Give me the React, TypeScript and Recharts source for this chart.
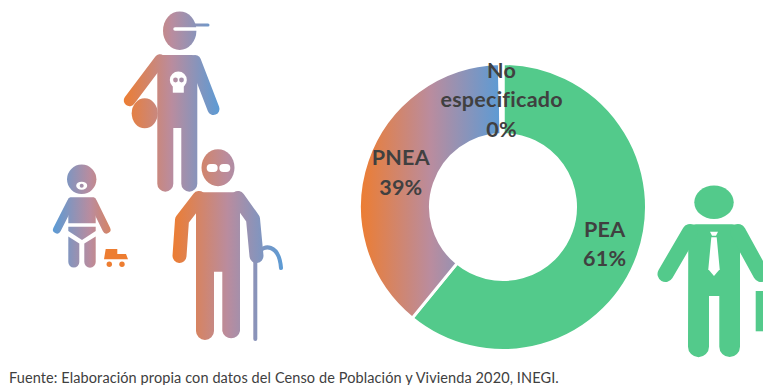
import { Cell, Pie, PieChart } from "recharts";

const sliceNames = ["PEA", "PNEA", "No especificado"];
const sliceValues = [60.9, 38.7, 0.4];
const sliceShown = [61, 39, 0];
const sliceFills = ["#53CA8B", "url(#pneaFill)", "#FFFFFF"];

const sourceNote = "Fuente: Elaboración propia con datos del Censo de Población y Vivienda 2020, INEGI.";

const rows = sliceNames.map((name, i) => ({ name, value: sliceValues[i], shown: sliceShown[i] }));

const ORANGE = "#ED7D31";
const MAUVE = "#BA8C9E";
const BLUE = "#5B9BD5";
const GREEN = "#53CA8B";
const INK = "#404040";
const FONT = "Lato, 'Open Sans', sans-serif";

function SliceLabel(props: any) {
  const { cx, cy, midAngle, innerRadius, outerRadius, payload } = props;
  const r = (innerRadius + outerRadius) / 2;
  const a = (midAngle * Math.PI) / 180;
  const x = cx + r * Math.cos(a);
  const y = cy - r * Math.sin(a);
  const lines = [...payload.name.split(" "), `${payload.shown}%`];
  const lineH = 29.5;
  const top = y - ((lines.length - 1) * lineH) / 2 + 8;
  return (
    <text textAnchor="middle" fill={INK} fontFamily={FONT} fontWeight={700} fontSize={21.5} letterSpacing={0.25}>
      {lines.map((line: string, i: number) => (
        <tspan key={line} x={x} y={top + i * lineH}>
          {line}
        </tspan>
      ))}
    </text>
  );
}

function BlendStops({ flip }: { flip?: boolean }) {
  return (
    <>
      <stop offset="0%" stopColor={flip ? BLUE : ORANGE} />
      <stop offset="50%" stopColor={MAUVE} />
      <stop offset="100%" stopColor={flip ? ORANGE : BLUE} />
    </>
  );
}

// people around the donut, plain svg shapes
function Teen() {
  const p = "url(#teenFill)";
  return (
    <g>
      <ellipse cx={179.7} cy={30.7} rx={16.7} ry={19.3} fill={p} />
      <line x1={195} y1={25} x2={208} y2={25} stroke={p} strokeWidth={3} strokeLinecap="round" />
      <line x1={175} y1={29} x2={197} y2={29} stroke="#fff" strokeWidth={3.5} strokeLinecap="round" />
      <path
        d="M157.3 61 Q157.3 55 163 55 L192 55 Q197.3 55 197.3 61 L197.3 183.7 a8 8 0 0 1 -16 0 L181.3 128 L173.3 128 L173.3 183.7 a8 8 0 0 1 -16 0 Z"
        fill={p}
      />
      <path d="M160 60 L129.5 100.5" stroke={p} strokeWidth={11.5} strokeLinecap="round" />
      <path d="M195 61 L213.5 109" stroke={p} strokeWidth={12} strokeLinecap="round" />
      <ellipse cx={144.7} cy={113.3} rx={13} ry={15} fill={p} />
      <circle cx={178.3} cy={80} r={8.5} fill="#fff" />
      <rect x={172.8} y={84} width={11} height={8.7} fill="#fff" />
      <circle cx={175.5} cy={80} r={2.4} fill={p} />
      <circle cx={181.5} cy={80} r={2.4} fill={p} />
    </g>
  );
}

function Elder() {
  const p = "url(#elderFill)";
  return (
    <g>
      <ellipse cx={218} cy={167.7} rx={16.5} ry={18.5} fill={p} />
      <rect x={206.7} y={164} width={11} height={8} rx={4} fill="#fff" />
      <rect x={219.3} y={164} width={11} height={8} rx={4} fill="#fff" />
      <path
        d="M196 198 Q196.5 192.3 202 192.3 L234 192.3 Q240 192.3 240 198 L240 331 a9 9 0 0 1 -17.7 0 L222.3 271.7 L214 271.7 L214 331 a9 9 0 0 1 -18 0 Z"
        fill={p}
      />
      <path d="M199 198 L182 220 L179.5 256" fill="none" stroke={p} strokeWidth={14} strokeLinecap="round" strokeLinejoin="round" />
      <path d="M238 198 L253 219 L256.5 256" fill="none" stroke={p} strokeWidth={14} strokeLinecap="round" strokeLinejoin="round" />
      <line x1={255.3} y1={258} x2={255.3} y2={339} stroke={p} strokeWidth={4} strokeLinecap="round" />
      <path d="M259 252 C263 245 279 243 281 268" fill="none" stroke={p} strokeWidth={4} strokeLinecap="round" />
    </g>
  );
}

function Baby() {
  const p = "url(#babyFill)";
  return (
    <g>
      <circle cx={81.7} cy={179.3} r={14.7} fill={p} />
      <ellipse cx={81.7} cy={185.7} rx={5.5} ry={4} fill="#fff" />
      <circle cx={81.7} cy={185.7} r={2} fill={p} />
      <path d="M68.3 200 Q68.3 197.3 71 197.3 L93 197.3 Q95.7 197.3 95.7 200 L95.7 223.3 L68.3 223.3 Z" fill={p} />
      <line x1={71} y1={202} x2={57} y2={229.5} stroke={p} strokeWidth={8} strokeLinecap="round" />
      <line x1={93} y1={202} x2={106.5} y2={229.5} stroke={p} strokeWidth={8} strokeLinecap="round" />
      <path d="M68.3 226.7 L95.7 226.7 L95.7 231 L82 240 L68.3 231 Z" fill={p} />
      <path d="M68.3 236.5 L79.3 243.5 L79.3 262 a5.5 5.5 0 0 1 -11 0 Z" fill={p} />
      <path d="M95.7 236.5 L84.3 243.5 L84.3 262 a5.7 5.7 0 0 0 11.4 0 Z" fill={p} />
      <path d="M105.7 249 L117.3 249 L117.3 254 L126 254 L128 259.3 L104 259.3 Z" fill={ORANGE} />
      <circle cx={109.3} cy={264.3} r={2.7} fill={ORANGE} />
      <circle cx={122} cy={264.3} r={2.7} fill={ORANGE} />
    </g>
  );
}

function Worker() {
  return (
    <g fill={GREEN}>
      <ellipse cx={714} cy={202.3} rx={19.7} ry={16.7} />
      <path d="M688.3 231 Q688.3 224.3 696 224.3 L732 224.3 Q740 224.3 740 231 L740 346.7 a10.3 10.3 0 0 1 -20.7 0 L719.3 296 L709 296 L709 346.7 a10.5 10.5 0 0 1 -21 0 Z" />
      <line x1={690} y1={232} x2={665.5} y2={274} stroke={GREEN} strokeWidth={16} strokeLinecap="round" />
      <line x1={738} y1={232} x2={761} y2={274} stroke={GREEN} strokeWidth={16} strokeLinecap="round" />
      <rect x={755.7} y={291} width={8} height={40.3} />
      <path d="M710 231.7 L718 231.7 L716 235.7 L712 235.7 Z" fill="#fff" />
      <path d="M711.3 237.3 L716.7 237.3 L719.7 269.3 L714 276 L708.3 269.3 Z" fill="#fff" />
    </g>
  );
}

export default function App() {
  return (
    <div style={{ position: "fixed", left: 0, top: 0, width: 763, height: 385, background: "#fff", overflow: "hidden" }}>
      <svg width={763} height={385} style={{ position: "absolute", left: 0, top: 0 }}>
        <defs>
          <linearGradient id="teenFill" gradientUnits="userSpaceOnUse" x1={123} y1={0} x2={220} y2={0}>
            <BlendStops />
          </linearGradient>
          <linearGradient id="elderFill" gradientUnits="userSpaceOnUse" x1={172} y1={0} x2={283} y2={0}>
            <BlendStops />
          </linearGradient>
          <linearGradient id="babyFill" gradientUnits="userSpaceOnUse" x1={53} y1={0} x2={128} y2={0}>
            <BlendStops flip />
          </linearGradient>
        </defs>
        <Teen />
        <Elder />
        <Baby />
        <Worker />
        <text x={9} y={382.5} fontFamily={FONT} fontSize={14.5} letterSpacing={0.1} fill={INK}>
          {sourceNote}
        </text>
      </svg>
      <div style={{ position: "absolute", left: 0, top: 0 }}>
        <PieChart width={763} height={385} margin={{ top: 0, right: 0, bottom: 0, left: 0 }}>
          <defs>
            <linearGradient id="pneaFill" x1="0" y1="0" x2="1" y2="0">
              <BlendStops />
            </linearGradient>
          </defs>
          <Pie
            data={rows}
            dataKey="value"
            nameKey="name"
            cx={503}
            cy={207}
            innerRadius={72.5}
            outerRadius={143.5}
            startAngle={90}
            endAngle={-270}
            stroke="#fff"
            strokeWidth={3}
            label={SliceLabel}
            labelLine={false}
            isAnimationActive={false}
          >
            {rows.map((row, i) => (
              <Cell key={row.name} fill={sliceFills[i]} />
            ))}
          </Pie>
        </PieChart>
      </div>
    </div>
  );
}
